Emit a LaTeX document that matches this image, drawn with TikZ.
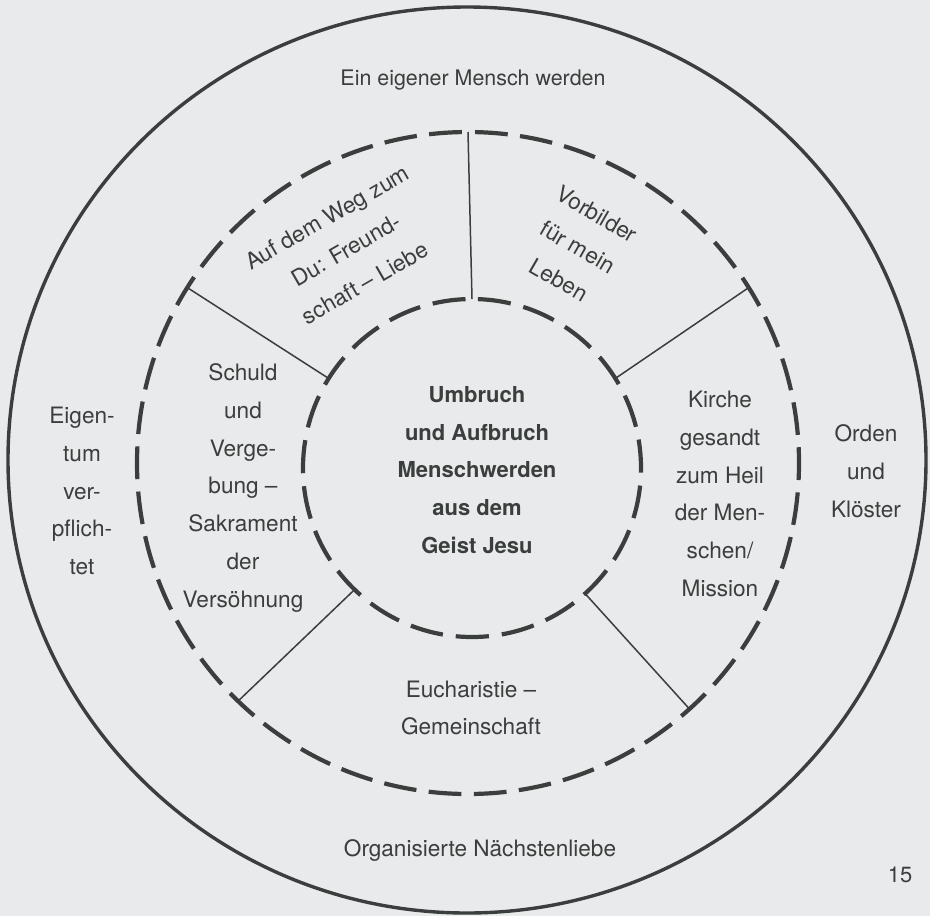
\documentclass[tikz,border=0pt]{standalone}
\usepackage{fontspec}
\setmainfont{TeX Gyre Heros}
\usetikzlibrary{calc}
\definecolor{paper}{RGB}{233,234,235}
\definecolor{ink}{RGB}{58,62,60}

\begin{document}
\begin{tikzpicture}[x=0.5pt,y=0.5pt]
\tikzset{
ring/.style={draw=ink, line width=1.7pt}, % the solid outer line
dashmid/.style={draw=ink, line width=2.1pt, dash pattern=on 16.4pt off 6.2pt, dash phase=19.5pt}, % middle dashed circle
dashin/.style={draw=ink, line width=2.1pt, dash pattern=on 16.6pt off 6.5pt, dash phase=19.85pt}, % inner dashed circle
spoke/.style={draw=ink, line width=0.75pt}, % thin lines between the circles
txt/.style={text=ink, align=center, inner sep=0pt, font=\fontsize{11.3}{18.9}\selectfont}, % all texts
}
	\fill[paper] (0,0) rectangle (930,-916);
	\useasboundingbox (0,0) rectangle (930,-916);

	% circles
	\coordinate (mc) at (468,-463);
	\coordinate (ic) at (472,-468);
	\draw[ring] (467,-460) ellipse[x radius=459, y radius=453];
	\draw[dashmid] ($(mc)+(90:331)$) arc[start angle=90, end angle=450, radius=331];
	\draw[dashin] ($(ic)+(90:169)$) arc[start angle=90, end angle=450, radius=169];

	% spokes
	\foreach \a in {90,148,32,226,312} {
		\coordinate (m\a) at ($(mc)+(\a:331)$);
		\coordinate (i\a) at ($(ic)+(\a:169)$);
		\draw[spoke] (i\a) -- (m\a);
	}

	% outer ring
	\node[txt, font=\fontsize{10.7}{18.9}\selectfont] (top) at (473,-80) {Ein eigener Mensch werden};
	\node[txt] (bottom) at (480,-851) {Organisierte Nächstenliebe};
	\node[txt] (left) at (82,-491) {Eigen-\\tum\\ver-\\pflich-\\tet};
	\node[txt] (right) at (866,-471) {Orden\\und\\Klöster};

	% sectors
	\node[txt, rotate=30] (s1) at (346,-250) {Auf dem Weg zum\\Du: Freund-\\schaft -- Liebe};
	\node[txt, rotate=-30] (s2) at (578,-247) {Vorbilder\\für mein\\Leben};
	\node[txt] (s3) at (243,-488) {Schuld\\und\\Verge-\\bung --\\Sakrament\\der\\Versöhnung};
	\node[txt] (s4) at (720,-494) {Kirche\\gesandt\\zum Heil\\der Men-\\schen/\\Mission};
	\node[txt] (s5) at (471,-708) {Eucharistie --\\Gemeinschaft};

	% centre
	\node[txt, font=\fontsize{11}{18.9}\selectfont\bfseries] (core) at (477,-470) {Umbruch\\und Aufbruch\\Menschwerden\\aus dem\\Geist Jesu};

	\node[txt, font=\fontsize{11}{13}\selectfont] (page) at (900,-875) {15};
\end{tikzpicture}
\end{document}
